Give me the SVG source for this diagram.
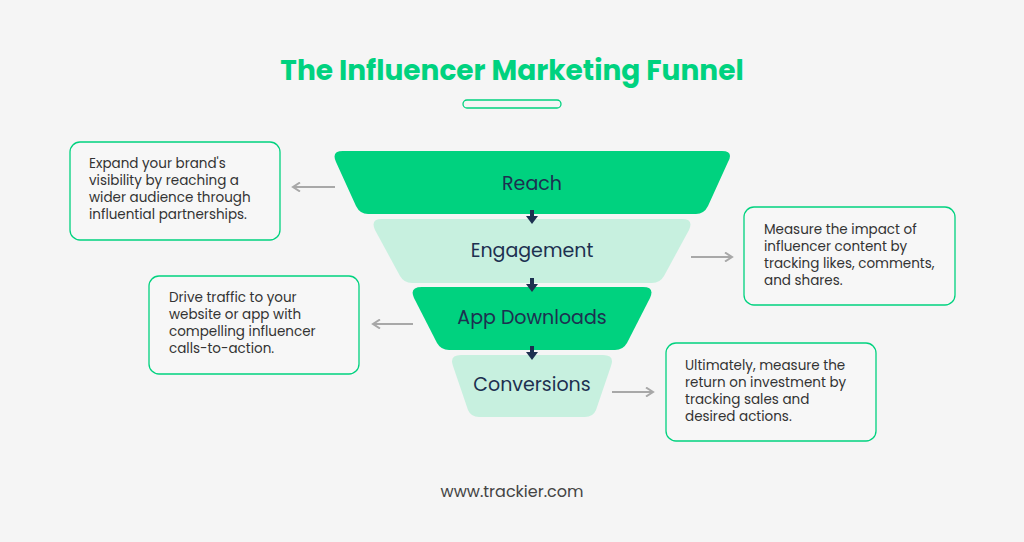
<svg xmlns="http://www.w3.org/2000/svg" width="1024" height="542" viewBox="0 0 1024 542">
<defs>
<style>
.t{font-family:Poppins,"Noto Sans","Liberation Sans",sans-serif}
.lbl{font-size:19px;fill:#1d3050;text-anchor:middle}
.desc{font-size:13.5px;fill:#333}
.box{fill:#f7f7f7;stroke:#00d27f;stroke-width:1.3}
.g{stroke:#a8a8a8;stroke-width:2.2;fill:none}
.d{fill:#1d3050}
</style>
<marker id="ga" markerWidth="10" markerHeight="10" refX="8" refY="5" orient="auto" markerUnits="userSpaceOnUse"><path d="M1,0.5 L8,5 L1,9.5" fill="none" stroke="#a8a8a8" stroke-width="2"/></marker>
</defs>
<rect width="1024" height="542" fill="#f5f5f5"/>
<text class="t" x="512" y="80" text-anchor="middle" font-size="28" font-weight="700" fill="#00d27f">The Influencer Marketing Funnel</text>
<rect x="463" y="100" width="98" height="8" rx="4" fill="none" stroke="#00d27f" stroke-width="1.3"/>
<g id="reach"><path d="M343,151 H722 Q734,151 728,162 L708,206 Q704,214 696,214 H368 Q360,214 356,206 L336,162 Q331,151 343,151 Z" fill="#00d27f"/><text class="t lbl" x="532" y="190">Reach</text></g>
<g id="engagement"><path d="M382,219 H682 Q694,219 689,230 L664,276 Q660,283 652,283 H412 Q404,283 400,276 L375,230 Q370,219 382,219 Z" fill="#c7f0df"/><text class="t lbl" x="532" y="257">Engagement</text></g>
<g id="app"><path d="M422,287 H643 Q655,287 650,298 L627,343 Q623,350 615,350 H449 Q441,350 437,343 L414,298 Q409,287 422,287 Z" fill="#00d27f"/><text class="t lbl" x="532" y="324">App Downloads</text></g>
<g id="conv"><path d="M461,355 H603 Q615,355 611,366 L596,410 Q593,417 585,417 H479 Q471,417 468,410 L453,366 Q449,355 461,355 Z" fill="#c7f0df"/><text class="t lbl" x="532" y="391">Conversions</text></g>
<g id="box1"><rect class="box" x="70" y="142" width="210" height="98" rx="10"/><text class="t desc"><tspan x="89" y="168">Expand your brand's</tspan><tspan x="89" y="185">visibility by reaching a</tspan><tspan x="89" y="202">wider audience through</tspan><tspan x="89" y="219">influential partnerships.</tspan></text></g>
<g id="box2"><rect class="box" x="744" y="207" width="211" height="98" rx="10"/><text class="t desc"><tspan x="764" y="234">Measure the impact of</tspan><tspan x="764" y="251">influencer content by</tspan><tspan x="764" y="268">tracking likes, comments,</tspan><tspan x="764" y="285">and shares.</tspan></text></g>
<g id="box3"><rect class="box" x="149" y="276" width="210" height="98" rx="10"/><text class="t desc"><tspan x="169" y="302">Drive traffic to your</tspan><tspan x="169" y="319">website or app with</tspan><tspan x="169" y="336">compelling influencer</tspan><tspan x="169" y="353">calls-to-action.</tspan></text></g>
<g id="box4"><rect class="box" x="666" y="343" width="210" height="98" rx="10"/><text class="t desc"><tspan x="685" y="370">Ultimately, measure the</tspan><tspan x="685" y="387">return on investment by</tspan><tspan x="685" y="404">tracking sales and</tspan><tspan x="685" y="421">desired actions.</tspan></text></g>
<g id="connectors">
<path class="g" d="M335,187 H293" marker-end="url(#ga)"/>
<path class="g" d="M691,257 H732" marker-end="url(#ga)"/>
<path class="g" d="M413,324 H373" marker-end="url(#ga)"/>
<path class="g" d="M612,392 H653" marker-end="url(#ga)"/>
<path class="d" d="M530,210 h4 v6 h4 l-6,8 l-6,-8 h4 z"/>
<path class="d" d="M530,278 h4 v6 h4 l-6,8 l-6,-8 h4 z"/>
<path class="d" d="M530,346 h4 v6 h4 l-6,8 l-6,-8 h4 z"/>
</g>
<text class="t" x="512" y="497" text-anchor="middle" font-size="16" fill="#444">www.trackier.com</text>
</svg>
